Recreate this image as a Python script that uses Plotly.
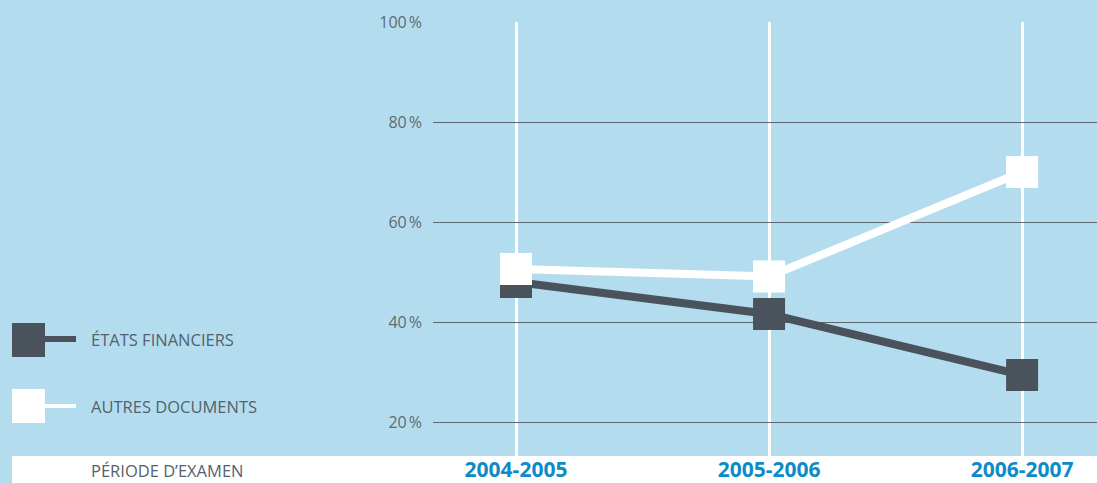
import plotly.graph_objects as go

periods = ["2004-2005", "2005-2006", "2006-2007"]
etats_financiers = [48.0, 41.6, 29.4]
autres_documents = [50.6, 49.1, 70.0]
y_ticks = [20, 40, 60, 80, 100]
y_tick_labels = ["20\u202f%", "40\u202f%", "60\u202f%", "80\u202f%", "100\u202f%"]
legend_names = ["ÉTATS FINANCIERS", "AUTRES DOCUMENTS"]
axis_title = "PÉRIODE D\u2019EXAMEN"

BG = "#b3ddef"
DARK = "#4a525c"
GRAY_TXT = "#55616c"
BLUE = "#0d8bc8"

W, H = 1097, 483
L, R, T, B = 433, 0, 22, 27
PW, PH = W - L - R, H - T - B

def px(x):
    return (x - L) / PW

def py(y):
    return (H - B - y) / PH

fig = go.Figure()
fig.add_trace(go.Scatter(
    x=periods, y=etats_financiers, mode="lines+markers", name=legend_names[0],
    line=dict(color=DARK, width=8),
    marker=dict(symbol="square", size=32, color=DARK),
    cliponaxis=False,
))
fig.add_trace(go.Scatter(
    x=periods, y=autres_documents, mode="lines+markers", name=legend_names[1],
    line=dict(color="white", width=8),
    marker=dict(symbol="square", size=32, color="white"),
    cliponaxis=False,
))

shapes = [
    dict(type="rect", xref="paper", yref="paper", x0=px(12), x1=px(W), y0=py(H + 2), y1=py(456),
         fillcolor="white", line=dict(width=0), layer="below"),
    dict(type="rect", xref="paper", yref="paper", x0=px(12), x1=px(45), y0=py(357), y1=py(323),
         fillcolor=DARK, line=dict(width=0)),
    dict(type="rect", xref="paper", yref="paper", x0=px(44), x1=px(76), y0=py(342), y1=py(336),
         fillcolor=DARK, line=dict(width=0)),
    dict(type="rect", xref="paper", yref="paper", x0=px(12), x1=px(45), y0=py(423), y1=py(389),
         fillcolor="white", line=dict(width=0)),
    dict(type="rect", xref="paper", yref="paper", x0=px(44), x1=px(76), y0=py(408), y1=py(404),
         fillcolor="white", line=dict(width=0)),
]

lab_font = dict(family="Open Sans", size=16.5, color=GRAY_TXT)
annotations = [
    dict(text=legend_names[0], xref="paper", yref="paper", x=px(89), y=py(339),
         xanchor="left", yanchor="middle", showarrow=False, font=lab_font),
    dict(text=legend_names[1], xref="paper", yref="paper", x=px(89), y=py(406),
         xanchor="left", yanchor="middle", showarrow=False, font=lab_font),
    dict(text=axis_title, xref="paper", yref="paper", x=px(89), y=py(470),
         xanchor="left", yanchor="middle", showarrow=False, font=lab_font),
]

fig.update_layout(
    width=W, height=H,
    margin=dict(l=L, r=R, t=T, b=B, pad=0),
    paper_bgcolor=BG, plot_bgcolor=BG,
    showlegend=False,
    shapes=shapes, annotations=annotations,
    xaxis=dict(
        type="category", range=[-0.328, 2.296], automargin=False,
        showgrid=True, gridcolor="white", gridwidth=3,
        zeroline=False, showline=False, ticks="",
        tickfont=dict(family="Open Sans", size=21, color=BLUE, weight="bold"),
        ticklabelstandoff=-1,
    ),
    yaxis=dict(
        range=[13.2, 100], tickvals=y_ticks, ticktext=y_tick_labels, automargin=False,
        showgrid=True, gridcolor="#5c6670", gridwidth=1,
        zeroline=False, showline=False, ticks="",
        tickfont=dict(family="Open Sans", size=16, color="#5f6a74"),
        ticklabelstandoff=10,
    ),
)

fig.write_html("out.html", config={"displayModeBar": False},
               post_script="document.body.style.margin='0px';document.body.style.overflow='hidden';")
